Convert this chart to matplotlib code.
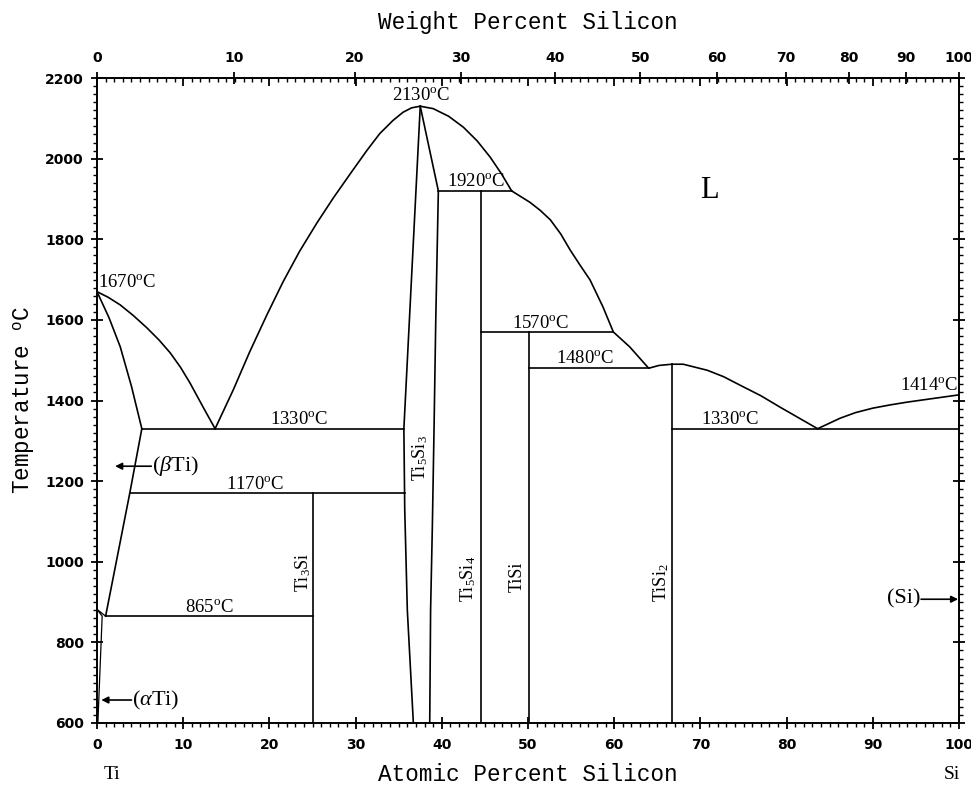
import numpy as np
import matplotlib.pyplot as plt
from matplotlib.ticker import MultipleLocator, FixedLocator, NullFormatter

plt.rcParams['mathtext.fontset'] = 'custom'
plt.rcParams['mathtext.rm'] = 'Liberation Serif'
plt.rcParams['mathtext.it'] = 'Liberation Serif:italic'
plt.rcParams['mathtext.tt'] = 'Liberation Mono'

# atomic masses, used only to place the weight-percent ticks
M_TI = 47.867
M_SI = 28.0855

# phase boundaries: atomic % Si and temperature (C)
liq_ti_x = [0, 1.3, 2.7, 4.2, 5.8, 7.2, 8.5, 9.7, 10.8, 12.3, 13.7]
liq_ti_t = [1670, 1656, 1637, 1611, 1580, 1550, 1518, 1482, 1443, 1384, 1330]
sol_ti_x = [0, 1.4, 2.7, 4.0, 5.2]
sol_ti_t = [1670, 1605, 1533, 1435, 1330]
solv_ti_x = [5.2, 3.8, 1.0]
solv_ti_t = [1330, 1170, 865]
ab_x = [1.0, 0.0, 0.6, 0.1]
ab_t = [865, 882, 865, 600]

liq_mid_x = [13.7, 15.8, 17.7, 19.7, 21.6, 23.5, 25.5, 27.4, 29.4, 31.3,
             32.8, 34.3, 35.5, 36.5, 37.5]
liq_mid_t = [1330, 1426, 1520, 1612, 1695, 1770, 1840, 1902, 1963, 2020,
             2062, 2094, 2115, 2126, 2130]
liq_right_x = [37.5, 39.0, 40.8, 42.5, 44.1, 45.6, 46.9, 48.1, 50.2, 51.4,
               52.6, 53.8, 54.9, 56.0, 57.2, 58.7, 59.9, 61.8, 64.0, 65.2,
               66.7, 68.0, 70.8, 72.7, 74.6, 77.0, 79.2, 81.4, 83.6]
liq_right_t = [2130, 2124, 2105, 2078, 2044, 2004, 1963, 1920, 1892, 1872,
               1848, 1813, 1773, 1737, 1699, 1632, 1570, 1533, 1480, 1487,
               1490, 1490, 1475, 1459, 1438, 1412, 1384, 1357, 1330]
liq_si_x = [83.6, 86.2, 88.0, 90.0, 92.0, 94.0, 97.0, 100]
liq_si_t = [1330, 1356, 1370, 1381, 1389, 1396, 1405, 1414]

ti5si3_left_x = [37.5, 35.6, 35.7, 36.0, 36.7]
ti5si3_left_t = [2130, 1330, 1130, 880, 600]
ti5si3_right_x = [37.5, 39.6, 39.3, 39.1, 38.9, 38.7, 38.6]
ti5si3_right_t = [2130, 1920, 1600, 1330, 1083, 880, 600]

# invariant lines: (temperature, x start, x end)
iso_t = [1330, 1330, 1170, 865, 1920, 1570, 1480]
iso_x0 = [5.2, 66.7, 3.8, 1.0, 39.6, 44.5, 50.1]
iso_x1 = [35.6, 100, 35.7, 25.05, 48.1, 59.9, 64.0]

# line compounds: (composition, top temperature)
comp_x = [25.05, 44.5, 50.1, 66.7]
comp_top = [1170, 1920, 1570, 1490]

wt_ticks = [0, 10, 20, 30, 40, 50, 60, 70, 80, 90, 100]


def wt_to_at(w):
    w = np.asarray(w, dtype=float)
    n_si = w / M_SI
    n_ti = (100 - w) / M_TI
    return 100 * n_si / (n_si + n_ti)


fig = plt.figure(figsize=(9.71, 7.86), dpi=100)
ax = fig.add_axes([97 / 971, 1 - 723 / 786, 862 / 971, 645 / 786])

lw = 1.2
kw = dict(color='black', lw=lw, solid_joinstyle='round')
ax.plot(liq_ti_x, liq_ti_t, **kw)
ax.plot(sol_ti_x, sol_ti_t, **kw)
ax.plot(solv_ti_x, solv_ti_t, **kw)
ax.plot(ab_x, ab_t, color='black', lw=0.9)
ax.plot(liq_mid_x, liq_mid_t, **kw)
ax.plot(liq_right_x, liq_right_t, **kw)
ax.plot(liq_si_x, liq_si_t, **kw)
ax.plot(ti5si3_left_x, ti5si3_left_t, **kw)
ax.plot(ti5si3_right_x, ti5si3_right_t, **kw)
for t, x0, x1 in zip(iso_t, iso_x0, iso_x1):
    ax.plot([x0, x1], [t, t], **kw)
for x, top in zip(comp_x, comp_top):
    ax.plot([x, x], [600, top], **kw)

ax.set_xlim(0, 100)
ax.set_ylim(600, 2200)

# temperature labels
lab = dict(fontsize=13.5, family='Liberation Serif', va='bottom', ha='center')
ax.text(0.1, 1672, r'1670$^{\rm o}$C', **dict(lab, ha='left'))
ax.text(37.6, 2136, r'2130$^{\rm o}$C', **lab)
ax.text(44.0, 1922, r'1920$^{\rm o}$C', **lab)
ax.text(51.4, 1571, r'1570$^{\rm o}$C', **lab)
ax.text(56.6, 1482, r'1480$^{\rm o}$C', **lab)
ax.text(23.4, 1331, r'1330$^{\rm o}$C', **lab)
ax.text(73.4, 1331, r'1330$^{\rm o}$C', **lab)
ax.text(18.3, 1171, r'1170$^{\rm o}$C', **lab)
ax.text(13.0, 866, r'865$^{\rm o}$C', **lab)
ax.text(99.9, 1415, r'1414$^{\rm o}$C', **dict(lab, ha='right'))

ax.text(71.1, 1922, 'L', fontsize=22, family='Liberation Serif',
        ha='center', va='center')

# compound labels
cl = dict(fontsize=13, family='Liberation Serif', rotation=90,
          ha='center', va='center')
ax.text(37.5, 1258, r'Ti$_5$Si$_3$', **cl)
ax.text(23.9, 975, r'Ti$_3$Si', **cl)
ax.text(43.0, 958, r'Ti$_5$Si$_4$', **cl)
ax.text(48.8, 962, 'TiSi', **cl)
ax.text(65.5, 948, r'TiSi$_2$', **cl)

# terminal solid solutions with arrows
arr = dict(arrowstyle='-|>', color='black', lw=1.2, mutation_scale=10,
           shrinkA=0, shrinkB=0)
ph = dict(fontsize=16, family='Liberation Serif', va='center')
ax.annotate('', xy=(2.1, 1237), xytext=(6.3, 1237), arrowprops=arr)
ax.text(6.4, 1237, r'($\beta$Ti)', ha='left', **ph)
ax.annotate('', xy=(0.5, 657), xytext=(4.0, 657), arrowprops=arr)
ax.text(4.1, 657, r'($\alpha$Ti)', ha='left', **ph)
ax.annotate('', xy=(99.9, 907), xytext=(95.6, 907), arrowprops=arr)
ax.text(95.5, 907, '(Si)', ha='right', **ph)

# axes, ticks
tick_font = dict(family='DejaVu Sans', weight='bold', size=10)
ax.xaxis.set_major_locator(MultipleLocator(10))
ax.xaxis.set_minor_locator(MultipleLocator(1))
ax.yaxis.set_major_locator(MultipleLocator(200))
ax.yaxis.set_minor_locator(MultipleLocator(20))
ax.tick_params(axis='x', which='major', direction='inout', length=9,
               width=1.3, top=False, pad=6)
ax.tick_params(axis='x', which='minor', direction='out', length=3,
               width=1, top=False)
ax.tick_params(axis='y', which='major', direction='inout', length=9,
               width=1.3, left=True, right=True, pad=5)
ax.tick_params(axis='y', which='minor', direction='out', length=3,
               width=1, left=True, right=True)
for lb in ax.get_xticklabels() + ax.get_yticklabels():
    lb.set_fontproperties(tick_font)

for s in ax.spines.values():
    s.set_linewidth(1.4)

# top: atomic percent tick marks pointing in
axt = ax.twiny()
axt.set_xlim(0, 100)
axt.xaxis.set_major_locator(MultipleLocator(10))
axt.xaxis.set_minor_locator(MultipleLocator(1))
axt.xaxis.set_major_formatter(NullFormatter())
axt.tick_params(axis='x', which='major', direction='in', length=6, width=1.3)
axt.tick_params(axis='x', which='minor', direction='in', length=3, width=1)
for s in axt.spines.values():
    s.set_visible(False)

# top: weight percent scale
axw = ax.twiny()
axw.set_xlim(0, 100)
axw.xaxis.set_major_locator(FixedLocator(wt_to_at(wt_ticks)))
axw.set_xticklabels([str(w) for w in wt_ticks])
axw.tick_params(axis='x', which='major', direction='inout', length=9,
                width=1.3, pad=5)
for lb in axw.get_xticklabels():
    lb.set_fontproperties(tick_font)
for s in axw.spines.values():
    s.set_visible(False)

title_font = dict(family='Liberation Mono', size=16.3)
ax.set_xlabel('Atomic Percent Silicon', labelpad=8, **title_font)
axw.set_xlabel('Weight Percent Silicon', labelpad=16, **title_font)
ax.set_ylabel(r'Temperature $^{\mathtt{o}}$C', labelpad=6, **title_font)

ax.text(0.008, -0.066, 'Ti', transform=ax.transAxes, ha='left', va='top',
        fontsize=14, family='Liberation Serif')
ax.text(0.992, -0.066, 'Si', transform=ax.transAxes, ha='center', va='top',
        fontsize=14, family='Liberation Serif')

fig.savefig('out.png', dpi=100)
